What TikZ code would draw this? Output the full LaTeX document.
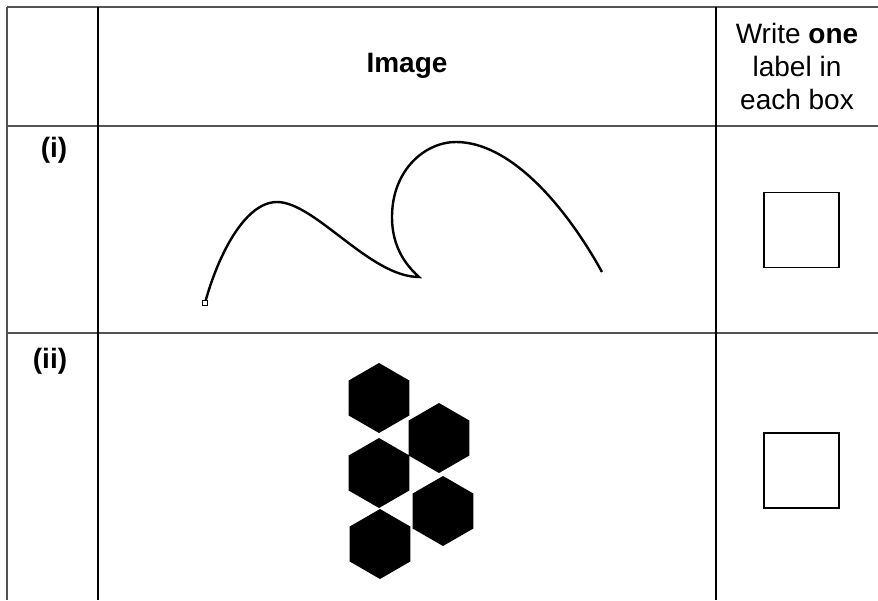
\documentclass[tikz,border=0pt]{standalone}
\usepackage{fontspec}
\setmainfont{Liberation Sans}
\usetikzlibrary{shapes.geometric}
\begin{document}
\begin{tikzpicture}[x=1pt,y=-1pt,
  gridline/.style={draw=black!67,line width=2pt},
  colline/.style={draw=black,line width=1.6pt},
  ansbox/.style={draw=black,line width=1.3pt,minimum width=75pt,minimum height=75pt,inner sep=0pt},
  hexa/.style={regular polygon,regular polygon sides=6,shape border rotate=30,fill=black,minimum size=70pt,inner sep=0pt},
  txt/.style={font=\fontsize{28}{33}\selectfont,inner sep=0pt,align=center},
  curve/.style={draw=black,line width=2.4pt}]
\useasboundingbox (0,0) rectangle (878,600);
% table grid
\coordinate (tl) at (7,7);
\coordinate (tr) at (878,7);
\coordinate (bl) at (7,600);
\coordinate (hl) at (7,126);
\coordinate (hr) at (878,126);
\coordinate (rl) at (7,333);
\coordinate (rr) at (878,333);
\coordinate (c1t) at (98,7);
\coordinate (c1b) at (98,600);
\coordinate (c2t) at (716,7);
\coordinate (c2b) at (716,600);
\draw[gridline] (tl) -- (tr);
\draw[gridline] (tl) -- (bl);
\draw[gridline] (hl) -- (hr);
\draw[gridline] (rl) -- (rr);
\draw[colline] (c1t) -- (c1b);
\draw[colline] (c2t) -- (c2b);
% header texts
\node[txt] (himg) at (407,66) {\textbf{Image}};
\node[txt] (hlab) at (797,66) {Write \textbf{one}\\label in\\each box};
\node[txt] (ri) at (54,150) {\textbf{(i)}};
\node[txt] (rii) at (50,361) {\textbf{(ii)}};
% answer boxes
\node[ansbox] (box1) at (801.5,230) {};
\node[ansbox] (box2) at (801.5,470.5) {};
% curve
\coordinate (S) at (205,303);
\coordinate (P1) at (277,202);
\coordinate (C) at (419,277);
\coordinate (L) at (392,217);
\coordinate (T) at (456,142);
\coordinate (E) at (602,272);
\draw[curve] (S) .. controls (218,255) and (245,202) .. (P1)
  .. controls (315,202) and (370,277) .. (C)
  .. controls (400,260) and (392,240) .. (L)
  .. controls (392,170) and (425,142) .. (T)
  .. controls (510,142) and (565,205) .. (E);
\node[draw=black,line width=1.2pt,minimum size=5pt,inner sep=0pt,fill=white] (mk) at (S) {};
% hexagons
\node[hexa] (h1) at (379,398) {};
\node[hexa] (h2) at (439,438) {};
\node[hexa] (h3) at (379,473) {};
\node[hexa] (h4) at (443,511) {};
\node[hexa] (h5) at (380,544) {};
\end{tikzpicture}
\end{document}
